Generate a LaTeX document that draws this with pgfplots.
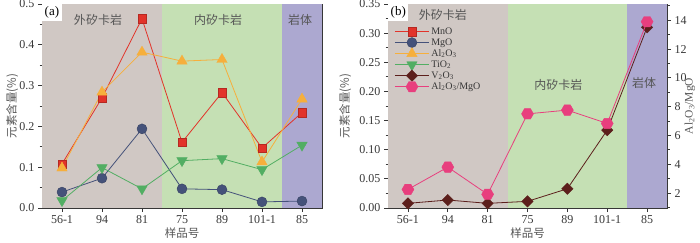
\documentclass[border=0pt]{standalone}
\usepackage{fontspec}
\setmainfont{Liberation Serif}
\newfontfamily\cjk{Noto Sans CJK SC}
\usepackage{pgfplots}
\pgfplotsset{compat=1.18}
\usetikzlibrary{plotmarks}

\definecolor{bggray}{RGB}{208,200,196}
\definecolor{bggreen}{RGB}{197,224,180}
\definecolor{bgpurple}{RGB}{172,168,208}
\definecolor{cMn}{RGB}{226,51,42}
\definecolor{cMg}{RGB}{69,82,122}
\definecolor{cAl}{RGB}{246,175,60}
\definecolor{cTi}{RGB}{82,174,99}
\definecolor{cV}{RGB}{92,31,28}
\definecolor{cR}{RGB}{232,63,126}
\definecolor{axgray}{RGB}{55,55,55}
\definecolor{txgray}{RGB}{85,85,85}

\pgfdeclareplotmark{hexagon*}{%
  \pgfpathmoveto{\pgfqpointpolar{0}{\pgfplotmarksize}}%
  \pgfpathlineto{\pgfqpointpolar{60}{\pgfplotmarksize}}%
  \pgfpathlineto{\pgfqpointpolar{120}{\pgfplotmarksize}}%
  \pgfpathlineto{\pgfqpointpolar{180}{\pgfplotmarksize}}%
  \pgfpathlineto{\pgfqpointpolar{240}{\pgfplotmarksize}}%
  \pgfpathlineto{\pgfqpointpolar{300}{\pgfplotmarksize}}%
  \pgfpathclose\pgfusepathqfillstroke}

\pgfplotsset{
  base/.style={
    scale only axis, width=280pt, height=204pt, anchor=south west,
    xmin=-0.5, xmax=6.5,
    xtick={0,...,6},
    xticklabels={56-1,94,81,75,89,101-1,85},
    tick align=outside, xtick pos=bottom,
    major tick length=4pt, minor tick length=2.5pt,
    axis line style={axgray, line width=0.9pt},
    every tick/.style={axgray, line width=0.8pt},
    tick label style={font=\fontsize{12}{12}\selectfont, text=axgray},
    /pgf/number format/assume math mode=true,
    xlabel={\cjk 样品号},
    xlabel style={font=\fontsize{11.5}{12}\selectfont, text=txgray, at={(axis description cs:0.5,-0.125)}, anchor=center},
    ylabel style={font=\fontsize{11.5}{12}\selectfont, text=txgray},
    clip=true,
  },
  MnO/.style={cMn, line width=0.8pt, mark=square*, mark size=4.2pt, mark options={fill=cMn, draw=cMn!80!black, line width=0.4pt}},
  MgO/.style={cMg, line width=0.8pt, mark=*, mark size=5pt, mark options={fill=cMg, draw=cMg!80!black, line width=0.4pt}},
  AlO/.style={cAl, line width=0.8pt, mark=triangle*, mark size=6pt, mark options={fill=cAl, draw=cAl, line width=0.4pt}},
  TiO/.style={cTi, line width=0.8pt, mark=triangle*, mark size=6pt, mark options={fill=cTi, draw=cTi, rotate=180, line width=0.4pt}},
  VO/.style={cV, line width=0.8pt, mark=square*, mark size=4pt, mark options={fill=cV, draw=cV, rotate=45, line width=0.4pt}},
  RatioS/.style={cR, line width=0.8pt, mark=hexagon*, mark size=6pt, mark options={fill=cR, draw=cR, line width=0.4pt}},
}

\begin{document}
\begin{tikzpicture}
\useasboundingbox (0,0) rectangle (700pt,242pt);

% ---------------- (a) ----------------
\begin{axis}[base, at={(42pt,34pt)},
  ymin=0, ymax=0.5, ytick={0,0.1,...,0.5}, minor ytick={0.05,0.15,...,0.45},
  ytick pos=left,
  yticklabel style={/pgf/number format/.cd, fixed, fixed zerofill, precision=1},
  ylabel={\cjk 元素含量(\%)},
  ylabel style={at={(axis description cs:-0.107,0.5)}, anchor=center},
]
\fill[bggray] (axis cs:-0.5,0) rectangle (axis cs:2.5,0.5);
\fill[bggreen] (axis cs:2.5,0) rectangle (axis cs:5.5,0.5);
\fill[bgpurple] (axis cs:5.5,0) rectangle (axis cs:6.5,0.5);
\addplot[MnO] coordinates {(0,0.108)(1,0.270)(2,0.464)(3,0.161)(4,0.283)(5,0.147)(6,0.234)};
\addplot[MgO] coordinates {(0,0.039)(1,0.073)(2,0.194)(3,0.047)(4,0.045)(5,0.015)(6,0.017)};
\addplot[AlO] coordinates {(0,0.098)(1,0.284)(2,0.382)(3,0.360)(4,0.364)(5,0.113)(6,0.267)};
\addplot[TiO] coordinates {(0,0.018)(1,0.099)(2,0.047)(3,0.116)(4,0.121)(5,0.094)(6,0.154)};
\node[fill=white, inner sep=2.5pt, anchor=north west, font=\fontsize{13}{14}\selectfont, text=black] at (rel axis cs:0,1) {(a)};
\node[font=\cjk\fontsize{12}{13}\selectfont, text=txgray] at (axis cs:0.9,0.461) {外矽卡岩};
\node[font=\cjk\fontsize{12}{13}\selectfont, text=txgray] at (axis cs:3.9,0.461) {内矽卡岩};
\node[font=\cjk\fontsize{12}{13}\selectfont, text=txgray] at (axis cs:5.95,0.461) {岩体};
\end{axis}

% ---------------- (b) left ----------------
\begin{axis}[base, at={(388pt,34pt)}, width=279pt,
  ymin=0, ymax=0.35, ytick={0,0.05,...,0.35}, minor ytick={0.025,0.075,...,0.325},
  ytick pos=left,
  yticklabel style={/pgf/number format/.cd, fixed, fixed zerofill, precision=2},
  ylabel={\cjk 元素含量(\%)},
  ylabel style={at={(axis description cs:-0.154,0.5)}, anchor=center},
  legend style={at={(rel axis cs:0.012,0.905)}, anchor=north west, draw=none, fill=none,
    font=\fontsize{10}{11}\selectfont, text=axgray, row sep=-1.2pt,
    nodes={inner ysep=2pt}},
  legend cell align=left,
  legend image code/.code={\draw[mark repeat=2, mark phase=2] plot coordinates {(0pt,0pt)(17pt,0pt)(34pt,0pt)};},
]
\fill[bggray] (axis cs:-0.5,0) rectangle (axis cs:2.5,0.35);
\fill[bggreen] (axis cs:2.5,0) rectangle (axis cs:5.5,0.35);
\fill[bgpurple] (axis cs:5.5,0) rectangle (axis cs:6.5,0.35);
\addlegendimage{MnO}
\addlegendentry{MnO}
\addlegendimage{MgO}
\addlegendentry{MgO}
\addlegendimage{AlO}
\addlegendentry{Al\textsubscript{2}O\textsubscript{3}}
\addlegendimage{TiO}
\addlegendentry{TiO\textsubscript{2}}
\addplot[VO] coordinates {(0,0.008)(1,0.0137)(2,0.008)(3,0.0114)(4,0.033)(5,0.1336)(6,0.310)};
\addlegendentry{V\textsubscript{2}O\textsubscript{3}}
\addlegendimage{RatioS}
\addlegendentry{Al\textsubscript{2}O\textsubscript{3}/MgO}
\node[fill=white, inner sep=2.5pt, anchor=north west, font=\fontsize{13}{14}\selectfont, text=black] at (rel axis cs:0,1) {(b)};
\node[font=\cjk\fontsize{12}{13}\selectfont, text=txgray] at (axis cs:0.875,0.331) {外矽卡岩};
\node[font=\cjk\fontsize{12}{13}\selectfont, text=txgray] at (axis cs:3.775,0.211) {内矽卡岩};
\node[font=\cjk\fontsize{12}{13}\selectfont, text=txgray] at (axis cs:5.925,0.2145) {岩体};
\end{axis}

% ---------------- (b) right ----------------
\begin{axis}[base, at={(388pt,34pt)}, width=279pt,
  axis x line=none, axis y line*=right,
  xlabel={},
  ymin=0.96, ymax=15.13, ytick={2,4,...,14}, minor ytick={1,3,...,15},
  ytick pos=right,
  ylabel={Al\textsubscript{2}O\textsubscript{3}/MgO},
  ylabel style={at={(axis description cs:1.082,0.5)}, anchor=center, rotate=0, font=\fontsize{11.5}{12}\selectfont, text=txgray},
]
\addplot[RatioS] coordinates {(0,2.25)(1,3.80)(2,1.91)(3,7.50)(4,7.76)(5,6.83)(6,13.9)};
\end{axis}
\end{tikzpicture}
\end{document}
